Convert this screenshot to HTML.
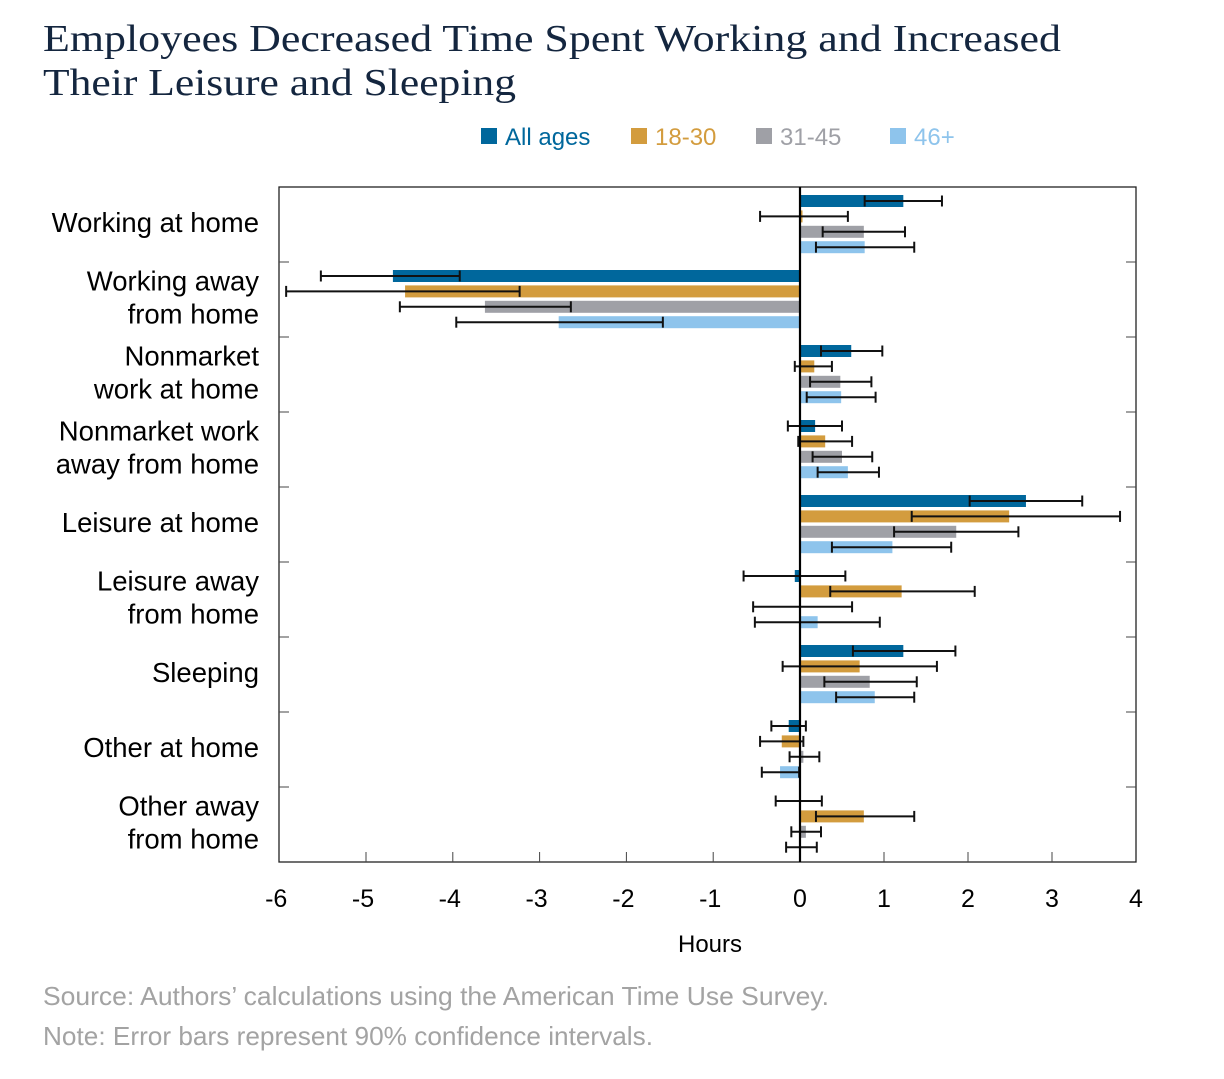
<!DOCTYPE html>
<html><head><meta charset="utf-8"><style>
html,body{margin:0;padding:0;background:#fff;}
svg text{font-family:"Liberation Sans",sans-serif;}
</style></head><body>
<svg id="chart" width="1224" height="1074" viewBox="0 0 1224 1074" xmlns="http://www.w3.org/2000/svg">
<text x="43" y="51" font-size="38" fill="#14263f" style="font-family:'Liberation Serif',serif" textLength="1018" lengthAdjust="spacingAndGlyphs">Employees Decreased Time Spent Working and Increased</text>
<text x="43" y="95" font-size="38" fill="#14263f" style="font-family:'Liberation Serif',serif" textLength="473" lengthAdjust="spacingAndGlyphs">Their Leisure and Sleeping</text>
<g id="legend"></g>
<rect x="279" y="187" width="857" height="675" fill="none" stroke="#222" stroke-width="1.3"/>
<g id="ticks"></g>
<g id="bars"></g>
<g id="errs"></g>
<g id="labels"></g>
<line x1="800" y1="187" x2="800" y2="862" stroke="#000" stroke-width="2.2"/>
<text x="710" y="952" font-size="24" text-anchor="middle" fill="#000">Hours</text>
<text x="43" y="1005" font-size="26" fill="#a3a3a3" textLength="786" lengthAdjust="spacingAndGlyphs">Source: Authors’ calculations using the American Time Use Survey.</text>
<text x="43" y="1045" font-size="26" fill="#a3a3a3" textLength="610" lengthAdjust="spacingAndGlyphs">Note: Error bars represent 90% confidence intervals.</text>
</svg>
<script>
const categories = [["Working at home"],["Working away","from home"],["Nonmarket","work at home"],["Nonmarket work","away from home"],["Leisure at home"],["Leisure away","from home"],["Sleeping"],["Other at home"],["Other away","from home"]];
const seriesNames = ["All ages","18-30","31-45","46+"];
const allAges = [1.23,-4.69,0.61,0.18,2.69,-0.06,1.23,-0.13,0];
const age18 = [0.03,-4.55,0.17,0.30,2.49,1.21,0.71,-0.21,0.76];
const age31 = [0.76,-3.63,0.48,0.50,1.86,0,0.83,0.04,0.07];
const age46 = [0.77,-2.78,0.49,0.57,1.10,0.21,0.89,-0.23,0];
const allLo = [0.77,-5.52,0.25,-0.14,2.02,-0.65,0.63,-0.33,-0.28];
const allHi = [1.69,-3.92,0.98,0.50,3.36,0.54,1.85,0.07,0.26];
const a18Lo = [-0.46,-5.92,-0.06,-0.02,1.33,0.36,-0.20,-0.46,0.19];
const a18Hi = [0.57,-3.23,0.38,0.62,3.81,2.08,1.63,0.04,1.36];
const a31Lo = [0.27,-4.61,0.12,0.15,1.12,-0.54,0.29,-0.12,-0.10];
const a31Hi = [1.25,-2.64,0.85,0.86,2.60,0.62,1.39,0.23,0.25];
const a46Lo = [0.19,-3.96,0.08,0.21,0.38,-0.52,0.43,-0.44,-0.16];
const a46Hi = [1.36,-1.58,0.90,0.94,1.80,0.95,1.36,-0.01,0.20];
const xTicks = [-6,-5,-4,-3,-2,-1,0,1,2,3,4];
const colors = ["#00679c","#d39c3e","#9fa0a6","#8ec4ec"];
const legendColors = ["#00679c","#d39c3e","#9fa0a6","#8ec4ec"];

const NS="http://www.w3.org/2000/svg";
function mk(tag,attrs,parent){const e=document.createElementNS(NS,tag);for(const k in attrs)e.setAttribute(k,attrs[k]);parent.appendChild(e);return e;}
function xs(v){return v<0?800+v*86.8:800+v*84;}
const plotTop=187, band=75;
function ys(ci,si){return plotTop+ci*band+14+si*15.4;}

const series=[allAges,age18,age31,age46];
const los=[allLo,a18Lo,a31Lo,a46Lo], his=[allHi,a18Hi,a31Hi,a46Hi];
const bars=document.getElementById('bars'), errs=document.getElementById('errs');
series.forEach((vals,si)=>{vals.forEach((v,ci)=>{
  const y=ys(ci,si);
  const x0=Math.min(xs(0),xs(v)), w=Math.abs(xs(v)-xs(0));
  const r=mk('rect',{x:x0,y:y-6,width:Math.max(w,0.01),height:12,fill:colors[si]},bars);
  
  
  const g=mk('g',{stroke:'#111','stroke-width':2},errs);
  
  
  const a=xs(los[si][ci]), b=xs(his[si][ci]);
  mk('line',{x1:a,y1:y,x2:b,y2:y},g);
  mk('line',{x1:a,y1:y-5.5,x2:a,y2:y+5.5},g);
  mk('line',{x1:b,y1:y-5.5,x2:b,y2:y+5.5},g);
});});

const ticks=document.getElementById('ticks');
xTicks.forEach(t=>{
  const x=xs(t);
  if(t>-6&&t<4){const l=mk('line',{x1:x,y1:862,x2:x,y2:852,stroke:'#444','stroke-width':1},ticks);
  }
  const tx=mk('text',{x:x-(t<0?3:0),y:907,'font-size':25,'text-anchor':'middle',fill:'#000'},ticks);
  tx.textContent=String(t);
  
  
});
for(let i=1;i<categories.length;i++){
  const y=plotTop+i*band;
  const l1=mk('line',{x1:279,y1:y,x2:289,y2:y,stroke:'#444','stroke-width':1},ticks);
  
  const l2=mk('line',{x1:1126,y1:y,x2:1136,y2:y,stroke:'#444','stroke-width':1},ticks);
  
}
const labels=document.getElementById('labels');
categories.forEach((lines,ci)=>{
  const cy=plotTop+ci*band+36;
  lines.forEach((ln,li)=>{
    const y=cy+9+(li-(lines.length-1)/2)*33;
    const t=mk('text',{x:259,y:y,'font-size':27.5,'text-anchor':'end',fill:'#000'},labels);
    t.textContent=ln;
    
    
  });
});
const legend=document.getElementById('legend');
const lx=[481,631,756,890];
seriesNames.forEach((n,i)=>{
  const g=mk('g',{},legend);
  
  
  mk('rect',{x:lx[i],y:128,width:16,height:16,fill:legendColors[i]},g);
  const t=mk('text',{x:lx[i]+24,y:145,'font-size':24,fill:legendColors[i]},g);
  t.textContent=n;
});
</script>
</body></html>
